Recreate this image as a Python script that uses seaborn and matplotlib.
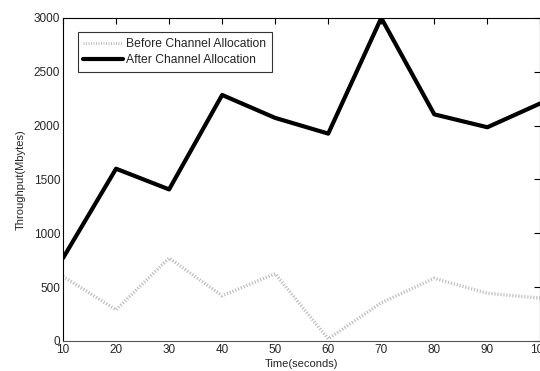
import matplotlib
matplotlib.use("Agg")
import matplotlib.pyplot as plt
import seaborn as sns
import pandas as pd

# Throughput over time
time_s = [10, 20, 30, 40, 50, 60, 70, 80, 90, 100]
before = [600, 290, 770, 420, 625, 20, 355, 582, 443, 398]
after = [770, 1600, 1408, 2285, 2072, 1926, 3000, 2105, 1985, 2207]

df = pd.DataFrame({"time": time_s, "before": before, "after": after})

sns.set_style("white")
plt.rcParams["font.family"] = ["Liberation Sans", "DejaVu Sans"]
plt.rcParams["xtick.direction"] = "in"
plt.rcParams["ytick.direction"] = "in"

fig = plt.figure(figsize=(5.4, 3.71), dpi=100)
ax = fig.add_axes([0.1167, 0.0809, 0.884, 0.8706])

sns.lineplot(data=df, x="time", y="before", ax=ax, color="#bcbcbc",
             linewidth=2.4, dashes=False, label="Before Channel Allocation")
sns.lineplot(data=df, x="time", y="after", ax=ax, color="black",
             linewidth=3, label="After Channel Allocation")
ax.lines[0].set_dashes([0.35, 0.55])

ax.set_xlim(10, 100)
ax.set_ylim(0, 3000)
ax.set_xticks(time_s)
ax.set_yticks(range(0, 3001, 500))
ax.tick_params(labelsize=8.5, length=4, top=True, right=True, pad=2, color="black")
for s in ax.spines.values():
    s.set_color("black")
    s.set_linewidth(0.8)
ax.spines["bottom"].set_color("#555555")
ax.set_xlabel("Time(seconds)", fontsize=8, labelpad=2)
ax.set_ylabel("Throughput(Mbytes)", fontsize=8, labelpad=6)

leg = ax.legend(loc="upper left", fontsize=8.7, frameon=True, fancybox=False,
                borderaxespad=1.2, handlelength=3.3, handletextpad=0.3,
                labelspacing=0.35, borderpad=0.45)
leg.get_frame().set_edgecolor("black")
leg.get_frame().set_linewidth(0.8)
leg.get_lines()[0].set_dashes([0.35, 0.55])
leg.get_lines()[0].set_linewidth(2.0)

fig.savefig("out.png", dpi=100)
